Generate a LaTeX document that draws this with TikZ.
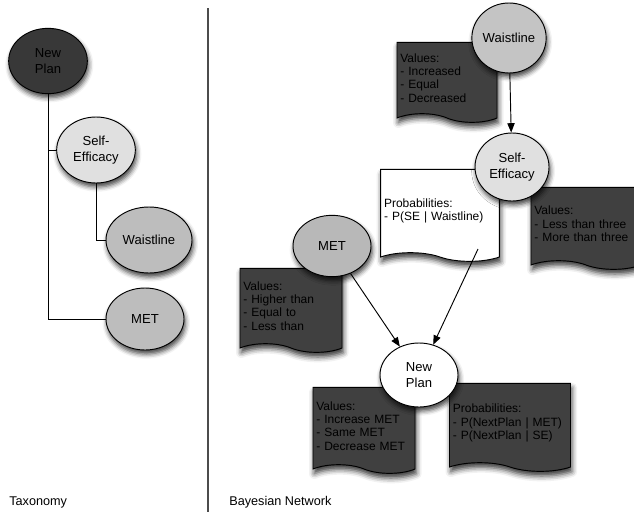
\documentclass[tikz,border=0pt]{standalone}
\usepackage{fontspec}
\setmainfont{Liberation Sans}
\usetikzlibrary{shapes.geometric,shapes.symbols,arrows.meta,shadows.blur}
\begin{document}
\begin{tikzpicture}
  [x=0.75pt,y=-0.75pt,
   every node/.style={font=\fontsize{9.5}{11.5}\selectfont},
   var/.style={ellipse,draw,line width=0.7pt,inner sep=0pt,align=center,
     font=\fontsize{9.8}{11.8}\selectfont,
     blur shadow={shadow xshift=1pt,shadow yshift=-3pt,shadow blur radius=3.5pt,shadow opacity=75}},
   doc/.style={tape,draw,line width=0.7pt,tape bend top=none,tape bend bottom=out and in,
     tape bend height=6.5pt,inner xsep=2.5pt,align=left,fill=black!75,
     font=\fontsize{9}{10}\selectfont,
     blur shadow={shadow xshift=1pt,shadow yshift=-3.5pt,shadow blur radius=4pt,shadow opacity=80}},
   link/.style={line width=0.7pt,-{Triangle[length=7pt,width=5.5pt]}}]
  \useasboundingbox (0,0) rectangle (634,514);
  \clip (0,0) rectangle (634,514);

  % taxonomy
  \node[var,fill=black!78,minimum width=59pt,minimum height=49pt] (tnp) at (48,61) {New\\Plan};
  \node[var,fill=black!12,minimum width=59pt,minimum height=49.5pt] (tse) at (96,150) {Self-\\Efficacy};
  \node[var,fill=black!26,minimum width=64.5pt,minimum height=49.5pt] (twl) at (149,240) {Waistline};
  \node[var,fill=black!26,minimum width=58.5pt,minimum height=46.5pt] (tmet) at (145,319) {MET};
\foreach \source/\dest in {tnp/tse,tnp/tmet,tse/twl}
   \draw[line width=0.6pt] (\source.south) |- (\dest.west);
  \node[anchor=west] (taxo) at (4.6,502) {Taxonomy};

  \draw[line width=1pt,black!70] (208,8) -- (208,512);

  % bayesian network
  \node[doc,minimum width=75pt,minimum height=60pt,text width=70pt] (wvals) at (447,78)
    {Values:\\- Increased\\- Equal\\- Decreased};
  \node[doc,fill=white,minimum width=89pt,minimum height=69pt,text width=84pt] (seprob) at (440,211)
    {Probabilities:\\- P(SE | Waistline)};
  \node[doc,minimum width=82.5pt,minimum height=61.5pt,text width=77.5pt] (sevals) at (586,224)
    {Values:\\- Less than three\\- More than three};
  \node[doc,minimum width=76.5pt,minimum height=63pt,text width=71.5pt] (metvals) at (291,306)
    {Values:\\- Higher than\\- Equal to\\- Less than};
  \node[doc,minimum width=76.5pt,minimum height=64.5pt,text width=71.5pt] (npvals) at (364,426)
    {Values:\\- Increase MET\\- Same MET\\- Decrease MET};
  \node[doc,minimum width=90.75pt,minimum height=66pt,text width=85.75pt] (npprob) at (510,423)
    {Probabilities:\\- P(NextPlan | MET)\\- P(NextPlan | SE)};

  \node[var,fill=black!23,minimum width=50pt,minimum height=52.5pt] (bwl) at (509,38) {Waistline};
  \node[var,fill=black!12,minimum width=55.5pt,minimum height=51pt] (bse) at (512,167) {Self-\\Efficacy};
  \node[var,fill=black!28,minimum width=58.5pt,minimum height=46pt] (bmet) at (332,246) {MET};
  \node[var,fill=white,minimum width=58.5pt,minimum height=48pt] (bnp) at (419,375) {New\\Plan};
  \coordinate (sefoot) at (478,249);
\foreach \source/\dest in {bwl/bse,bmet/bnp,sefoot/bnp}
   \draw[link] (\source) -- (\dest);
  \node[anchor=west] (bayes) at (224.6,502) {Bayesian Network};
\end{tikzpicture}
\end{document}
